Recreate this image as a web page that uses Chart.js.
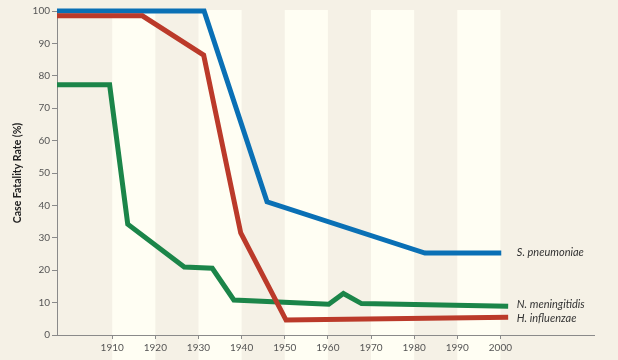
<!DOCTYPE html>
<html>
<head>
<meta charset="utf-8">
<script src="https://cdn.jsdelivr.net/npm/chart.js@4"></script>
<style>
html,body{margin:0;padding:0;background:#f5f1e6;}
#wrap{width:618px;height:360px;position:relative;}
</style>
</head>
<body>
<div id="wrap"><canvas id="c" width="618" height="360"></canvas></div>
<script>
const xTicks = [1910, 1920, 1930, 1940, 1950, 1960, 1970, 1980, 1990, 2000];
const yTicks = [0, 10, 20, 30, 40, 50, 60, 70, 80, 90, 100];
const bandStarts = [1910, 1930, 1950, 1970, 1990];

const seriesNames = ['S. pneumoniae', 'H. influenzae', 'N. meningitidis'];
const pneuYears = [1897.2, 1931.3, 1945.9, 1982.5, 2000.2];
const pneuVals  = [100, 100, 41.1, 25.3, 25.3];
const hinfYears = [1897.2, 1917, 1931.2, 1939.8, 1950.3, 2001.8];
const hinfVals  = [98.5, 98.5, 86.4, 31.5, 4.6, 5.5];
const nmenYears = [1897.2, 1909.4, 1913.6, 1926.7, 1933.2, 1938.2, 1960.2, 1963.6, 1967.8, 2001.8];
const nmenVals  = [77.2, 77.2, 34.2, 21.0, 20.6, 10.8, 9.5, 12.8, 9.7, 8.9];

const colors = ['#0a70b5', '#bb3a2a', '#1b8549'];

function pts(xs, ys){ return xs.map((x,i)=>({x:x, y:ys[i]})); }

const bandsPlugin = {
  id: 'bands',
  beforeDraw(chart){
    const {ctx, chartArea, scales:{x}} = chart;
    ctx.save();
    ctx.fillStyle = '#f5f1e6';
    ctx.fillRect(0,0,chart.width,chart.height);
    ctx.fillStyle = '#fffef3';
    bandStarts.forEach(s=>{
      const x0 = x.getPixelForValue(s), x1 = x.getPixelForValue(s+10);
      ctx.fillRect(x0, chartArea.top-1, x1-x0, chart.height-chartArea.top+1);
    });
    ctx.restore();
  }
};

const labelPlugin = {
  id: 'endLabels',
  afterDatasetsDraw(chart){
    const {ctx, scales:{x,y}} = chart;
    ctx.save();
    ctx.font = 'italic 11px "Lato", "DejaVu Sans", sans-serif';
    ctx.fillStyle = '#333';
    ctx.textBaseline = 'middle';
    const lx = x.getPixelForValue(2003.8);
    ctx.fillText(seriesNames[0], lx, y.getPixelForValue(pneuVals[pneuVals.length-1]) - 1);
    ctx.fillText(seriesNames[2], lx, y.getPixelForValue(nmenVals[nmenVals.length-1]) - 2);
    ctx.fillText(seriesNames[1], lx, y.getPixelForValue(hinfVals[hinfVals.length-1]) + 1);
    ctx.restore();
  }
};

const ds = (label, data, color) => ({
  label, data, borderColor: color, backgroundColor: color,
  borderWidth: 5, pointRadius: 0, tension: 0, clip: false,
  borderJoinStyle: 'miter', borderCapStyle: 'butt'
});

new Chart(document.getElementById('c'), {
  type: 'line',
  data: {
    datasets: [
      ds(seriesNames[1], pts(hinfYears, hinfVals), colors[1]),
      ds(seriesNames[2], pts(nmenYears, nmenVals), colors[2]),
      ds(seriesNames[0], pts(pneuYears, pneuVals), colors[0])
    ]
  },
  options: {
    responsive: false,
    animation: false,
    layout: { padding: { left: 0, right: 24, top: 11, bottom: 0 } },
    plugins: { legend: { display: false }, tooltip: { enabled: false } },
    scales: {
      x: {
        type: 'linear', min: 1897.2, max: 2021.7,
        afterBuildTicks(s){ s.ticks = xTicks.map(v=>({value:v})); },
        afterFit(s){ s.height = 25; },
        grid: { drawOnChartArea: false, drawTicks: true, tickLength: 4, color: '#8a8a8a' },
        border: { display: true, color: '#8a8a8a', width: 1 },
        ticks: { color: '#555', font: { family: 'Lato, "DejaVu Sans", sans-serif', size: 10 }, padding: 3, maxRotation: 0, autoSkip: false,
                 callback: v => String(v) }
      },
      y: {
        type: 'linear', min: 0, max: 100,
        afterBuildTicks(s){ s.ticks = yTicks.map(v=>({value:v})); },
        afterFit(s){ s.width = 57; },
        grid: { drawOnChartArea: false, drawTicks: true, tickLength: 5, color: '#8a8a8a' },
        border: { display: true, color: '#8a8a8a', width: 1 },
        ticks: { color: '#555', font: { family: 'Lato, "DejaVu Sans", sans-serif', size: 10 }, padding: 2 },
        title: { display: true, text: 'Case Fatality Rate (%)', color: '#222',
                 font: { family: 'Lato, "DejaVu Sans", sans-serif', size: 10.5, weight: 'bold' }, padding: { top: 11, bottom: 0 } }
      }
    }
  },
  plugins: [bandsPlugin, labelPlugin]
});
</script>
</body>
</html>
